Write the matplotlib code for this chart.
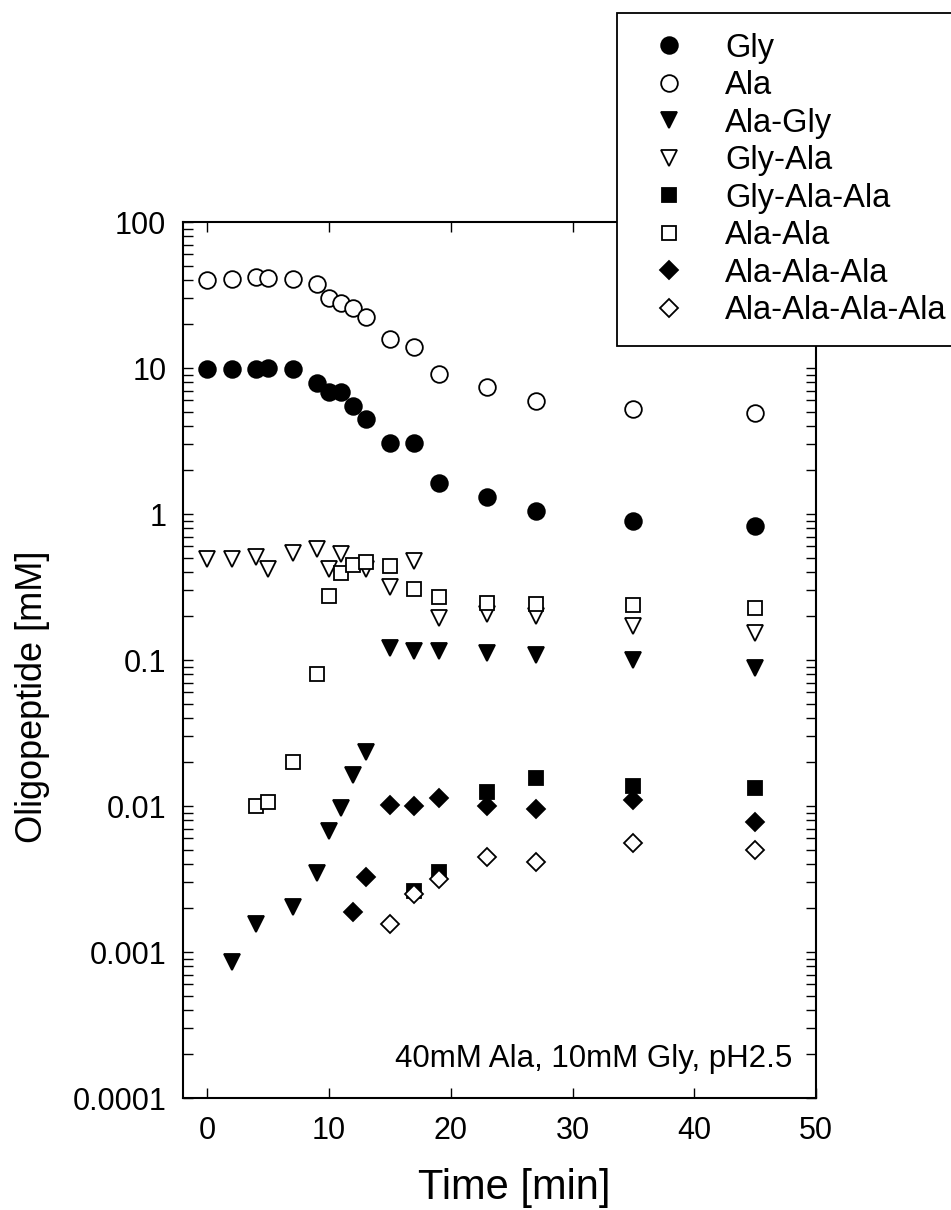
import matplotlib
matplotlib.use("Agg")
import matplotlib.pyplot as plt
from matplotlib.ticker import LogLocator, FuncFormatter, MultipleLocator, NullFormatter

plt.rcParams["font.family"] = ["Liberation Sans", "DejaVu Sans"]

# Data (time in min, concentration in mM)
t_gly = [0, 2, 4, 5, 7, 9, 10, 11, 12, 13, 15, 17, 19, 23, 27, 35, 45]
gly = [9.8, 9.8, 9.8, 10.0, 9.8, 7.9, 6.9, 6.8, 5.5, 4.5, 3.05, 3.07, 1.64, 1.31, 1.05, 0.90, 0.83]

t_ala = [0, 2, 4, 5, 7, 9, 10, 11, 12, 13, 15, 17, 19, 23, 27, 35, 45]
ala = [40.1, 40.5, 41.8, 41.1, 40.5, 37.6, 30.0, 28.0, 25.6, 22.3, 15.7, 13.9, 9.06, 7.4, 5.94, 5.26, 4.9]

t_ala_gly = [2, 4, 7, 9, 10, 11, 12, 13, 15, 17, 19, 23, 27, 35, 45]
ala_gly = [0.00086, 0.00156, 0.00202, 0.00346, 0.00675, 0.0097, 0.0163, 0.0236,
           0.120, 0.116, 0.116, 0.112, 0.108, 0.100, 0.088]

t_gly_ala = [0, 2, 4, 5, 7, 9, 10, 11, 13, 15, 17, 19, 23, 27, 35, 45]
gly_ala = [0.49, 0.49, 0.51, 0.42, 0.54, 0.575, 0.42, 0.53, 0.42, 0.315, 0.48,
           0.195, 0.207, 0.200, 0.171, 0.154]

t_gly_ala_ala = [17, 19, 23, 27, 35, 45]
gly_ala_ala = [0.00263, 0.00355, 0.0125, 0.0156, 0.0137, 0.0132]

t_ala_ala = [4, 5, 7, 9, 10, 11, 12, 13, 15, 17, 19, 23, 27, 35, 45]
ala_ala = [0.0100, 0.0107, 0.0199, 0.080, 0.274, 0.396, 0.448, 0.471, 0.44,
           0.306, 0.272, 0.247, 0.242, 0.237, 0.226]

t_ala3 = [12, 13, 15, 17, 19, 23, 27, 35, 45]
ala3 = [0.00189, 0.00325, 0.0102, 0.0100, 0.0113, 0.0100, 0.0096, 0.011, 0.0078]

t_ala4 = [15, 17, 19, 23, 27, 35, 45]
ala4 = [0.00156, 0.00249, 0.00315, 0.00446, 0.00411, 0.00555, 0.0050]

series = [
    ("Gly", t_gly, gly, "o", "black"),
    ("Ala", t_ala, ala, "o", "white"),
    ("Ala-Gly", t_ala_gly, ala_gly, "v", "black"),
    ("Gly-Ala", t_gly_ala, gly_ala, "v", "white"),
    ("Gly-Ala-Ala", t_gly_ala_ala, gly_ala_ala, "s", "black"),
    ("Ala-Ala", t_ala_ala, ala_ala, "s", "white"),
    ("Ala-Ala-Ala", t_ala3, ala3, "D", "black"),
    ("Ala-Ala-Ala-Ala", t_ala4, ala4, "D", "white"),
]
sizes = {"o": 12, "v": 12, "s": 10.5, "D": 9.5}

fig = plt.figure(figsize=(9.51, 12.10), dpi=100)
ax = fig.add_axes([183 / 951, 1 - 1098 / 1210, (816 - 183) / 951, (1098 - 222) / 1210])

handles = []
for name, t, v, m, fc in series:
    h, = ax.plot(t, v, linestyle="none", marker=m, markersize=sizes[m],
                 markerfacecolor=fc, markeredgecolor="black", markeredgewidth=1.3,
                 label=name)
    handles.append(h)

ax.set_yscale("log")
ax.set_ylim(1e-4, 100)
ax.set_xlim(-2, 50)
ax.xaxis.set_major_locator(MultipleLocator(10))
ax.yaxis.set_major_locator(LogLocator(base=10, numticks=10))
ax.yaxis.set_minor_locator(LogLocator(base=10, subs=range(2, 10), numticks=20))
ax.yaxis.set_major_formatter(FuncFormatter(lambda v, p: "%g" % v))
ax.yaxis.set_minor_formatter(NullFormatter())

ax.tick_params(which="both", direction="in", top=True, right=True, width=1.0, labelsize=22)
ax.tick_params(which="major", length=7)
ax.tick_params(which="minor", length=7)
ax.tick_params(axis="x", pad=13)
ax.tick_params(axis="y", pad=12)
for s in ax.spines.values():
    s.set_linewidth(1.5)

ax.set_xlabel("Time [min]", fontsize=30)
ax.set_ylabel("Oligopeptide [mM]", fontsize=26)
ax.xaxis.set_label_coords(0.524, -0.080)
ax.yaxis.set_label_coords(-0.21, 0.458)

ax.text(0.962, 0.045, "40mM Ala, 10mM Gly, pH2.5", transform=ax.transAxes,
        ha="right", va="center", fontsize=22.5)

leg = fig.legend(handles=handles, loc="upper left",
                 bbox_to_anchor=(617 / 951, 1 - 13 / 1210), borderaxespad=0,
                 fontsize=23.5, frameon=True, fancybox=False, edgecolor="black",
                 framealpha=1.0, handlelength=2.0, handletextpad=0.72,
                 labelspacing=0.2, borderpad=0.6, markerscale=1.0)
leg.get_frame().set_linewidth(1.3)

fig.savefig("out.png", dpi=100)
